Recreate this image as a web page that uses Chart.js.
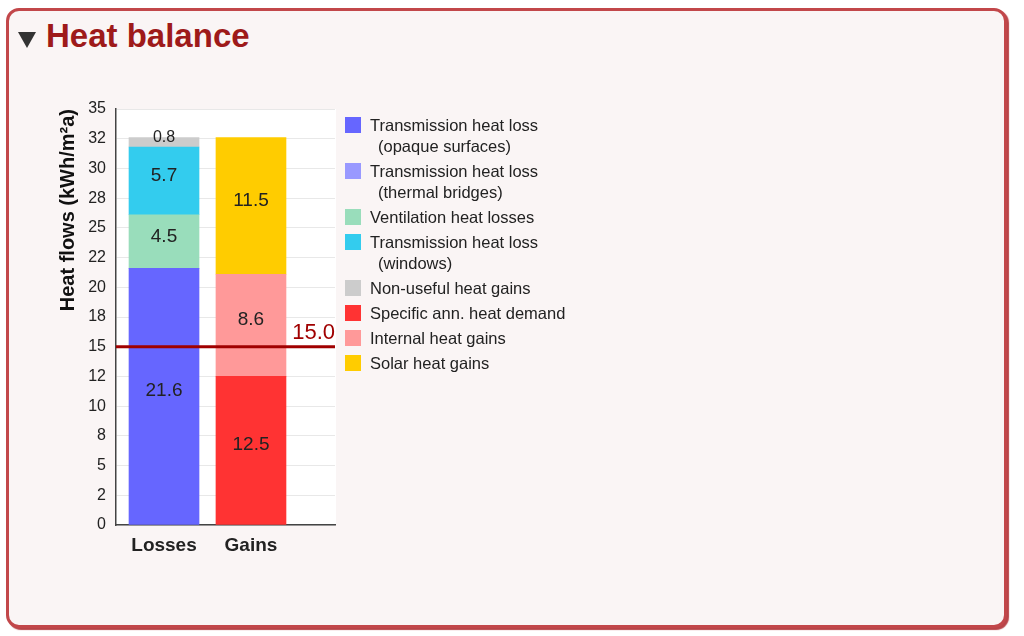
<!DOCTYPE html>
<html>
<head>
<meta charset="utf-8">
<script src="https://cdn.jsdelivr.net/npm/chart.js@4.4.1/dist/chart.umd.min.js"></script>
<style>
  html, body { margin:0; padding:0; background:#ffffff; width:1024px; height:636px; overflow:hidden; font-family:"Liberation Sans", Arial, sans-serif; }
  #panel { position:absolute; left:6px; top:8px; width:995px; height:614px; border:3px solid #c2474a; border-radius:13px; background:#faf5f5; box-shadow:2px 2px 1px #b84448; }
  #tri { position:absolute; left:18px; top:32px; width:0; height:0; border-left:9px solid transparent; border-right:9px solid transparent; border-top:16px solid #333333; }
  #title { position:absolute; left:46px; top:16px; font-size:33px; font-weight:bold; color:#9e1a1a; line-height:40px; white-space:nowrap; }
  #chartWrap { position:absolute; left:0; top:0; width:1024px; height:636px; }
  #legend { position:absolute; left:345px; top:115px; font-size:16.5px; color:#222; }
  .item { position:relative; padding-left:25px; line-height:21px; margin-bottom:4px; white-space:nowrap; }
  .box { position:absolute; left:0; top:2px; width:16px; height:16px; }
  .sub { padding-left:8px; }
</style>
</head>
<body>
<div id="panel"></div>
<div id="tri"></div>
<div id="title">Heat balance</div>
<div id="chartWrap"><canvas id="c" width="1024" height="636"></canvas></div>
<div id="legend"></div>
<script>
// ---- data ----
const categories = ['Losses', 'Gains'];
const transOpaque   = [21.6, null];
const transBridges  = [0, null];
const ventilation   = [4.5, null];
const transWindows  = [5.7, null];
const nonUseful     = [0.8, null];
const heatDemand    = [null, 12.5];
const internalGains = [null, 8.6];
const solarGains    = [null, 11.5];
const limitValue = 15.0;
const yTickLabels = ['0','2','5','8','10','12','15','18','20','22','25','28','30','32','35'];
const seriesNames = [
  ['Transmission heat loss', '(opaque surfaces)'],
  ['Transmission heat loss', '(thermal bridges)'],
  ['Ventilation heat losses'],
  ['Transmission heat loss', '(windows)'],
  ['Non-useful heat gains'],
  ['Specific ann. heat demand'],
  ['Internal heat gains'],
  ['Solar heat gains']
];
const seriesValues = [transOpaque, transBridges, ventilation, transWindows, nonUseful, heatDemand, internalGains, solarGains];
const seriesColors = ['#6666ff', '#9999ff', '#99ddbb', '#33ccee', '#cccccc', '#ff3333', '#ff9999', '#ffcc00'];
const labelSizes = [19, 19, 19, 19, 16, 19, 19, 19];

// ---- legend (HTML) ----
const leg = document.getElementById('legend');
seriesNames.forEach((lines, i) => {
  const d = document.createElement('div');
  d.className = 'item';
  const b = document.createElement('div');
  b.className = 'box';
  b.style.background = seriesColors[i];
  d.appendChild(b);
  lines.forEach((t, j) => {
    const s = document.createElement('div');
    if (j > 0) s.className = 'sub';
    s.textContent = t;
    d.appendChild(s);
  });
  leg.appendChild(d);
});

// ---- plugins ----
const plotBg = {
  id: 'plotBg',
  beforeDraw(chart) {
    const {ctx, chartArea: a} = chart;
    ctx.save();
    ctx.fillStyle = '#ffffff';
    ctx.fillRect(a.left, a.top, a.right - a.left + 1, a.bottom - a.top);
    ctx.restore();
  }
};
const valueLabels = {
  id: 'valueLabels',
  afterDatasetsDraw(chart) {
    const ctx = chart.ctx;
    ctx.save();
    ctx.textAlign = 'center';
    ctx.textBaseline = 'alphabetic';
    ctx.fillStyle = '#222222';
    chart.data.datasets.forEach((ds, di) => {
      const meta = chart.getDatasetMeta(di);
      meta.data.forEach((el, i) => {
        const v = ds.data[i].y;
        if (v === null || v === 0) return;
        const p = el.getProps(['x', 'y', 'base'], true);
        ctx.font = labelSizes[di] + 'px "Liberation Sans", Arial, sans-serif';
        ctx.fillText(v.toFixed(1), p.x, (p.y + p.base) / 2);
      });
    });
    ctx.restore();
  }
};
const limitLine = {
  id: 'limitLine',
  afterDatasetsDraw(chart) {
    const {ctx, chartArea: a} = chart;
    const y = chart.scales.y.getPixelForValue(limitValue);
    ctx.save();
    ctx.strokeStyle = '#a00000';
    ctx.lineWidth = 3;
    ctx.beginPath();
    ctx.moveTo(a.left, y);
    ctx.lineTo(a.right, y);
    ctx.stroke();
    ctx.fillStyle = '#a00000';
    ctx.font = '22px "Liberation Sans", Arial, sans-serif';
    ctx.textAlign = 'right';
    ctx.textBaseline = 'alphabetic';
    ctx.fillText(limitValue.toFixed(1), a.right, y - 8);
    ctx.restore();
  }
};

// ---- chart ----
const datasets = seriesValues.map((vals, i) => ({
  label: seriesNames[i].join(' '),
  data: vals.map((v, j) => ({x: j, y: v})),
  backgroundColor: seriesColors[i],
  borderWidth: 0,
  barThickness: 70
}));

new Chart(document.getElementById('c'), {
  type: 'bar',
  data: { datasets },
  options: {
    responsive: false,
    animation: false,
    events: [],
    layout: { padding: { left: 56, right: 689, top: 109, bottom: 61 } },
    plugins: { legend: { display: false }, tooltip: { enabled: false } },
    scales: {
      x: {
        type: 'linear',
        stacked: true,
        min: -0.552,
        max: 1.966,
        offset: false,
        afterBuildTicks(scale) { scale.ticks = categories.map((c, i) => ({value: i})); },
        afterFit(scale) { scale.height = 50; },
        grid: { display: false, drawTicks: false },
        border: { display: true, color: '#444444', width: 1.5 },
        ticks: {
          padding: 9,
          color: '#222222',
          font: { family: '"Liberation Sans", Arial, sans-serif', size: 19, weight: 'bold' },
          callback: (v) => categories[v]
        }
      },
      y: {
        stacked: true,
        min: 0,
        max: 35,
        afterBuildTicks(scale) { scale.ticks = yTickLabels.map((t, i) => ({value: i * 2.5})); },
        afterFit(scale) { scale.width = 60; },
        grid: { color: '#e8e8e8', lineWidth: 1, drawTicks: false },
        border: { display: true, color: '#444444', width: 1.5 },
        ticks: {
          padding: 10,
          color: '#222222',
          font: { family: '"Liberation Sans", Arial, sans-serif', size: 16 },
          callback: (v, i) => yTickLabels[i]
        },
        title: {
          display: true,
          text: 'Heat flows (kWh/m²a)',
          align: 'end',
          color: '#111111',
          padding: { top: 0, bottom: 0 },
          font: { family: '"Liberation Sans", Arial, sans-serif', size: 20, weight: 'bold' }
        }
      }
    }
  },
  plugins: [plotBg, valueLabels, limitLine]
});
</script>
</body>
</html>
